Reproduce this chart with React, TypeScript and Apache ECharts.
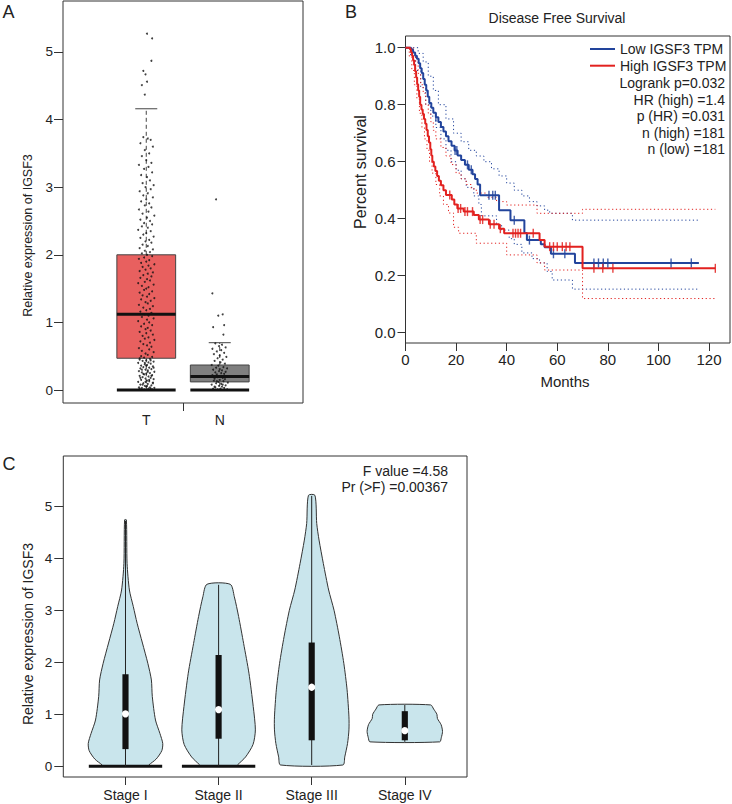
import React, { useEffect, useRef } from "react";
import * as echarts from "echarts";

const FONT = '"Liberation Sans", Arial, Helvetica, sans-serif';
const TEXT = "#222";
const AXIS = "#333";

// ---------------- Panel A: box plot with jittered points ----------------
const A_CATEGORIES = ["T", "N"];
const A_LOWER = [0, 0];
const A_Q1 = [0.47, 0.12];
const A_MEDIAN = [1.12, 0.2];
const A_Q3 = [2.0, 0.37];
const A_UPPER = [4.16, 0.7];
const A_Y_TICKS = [0, 1, 2, 3, 4, 5];
const A_TITLE = "Relative expression of IGSF3";
// [jitter in hundredths of a category, value]
const A_T_POINTS: [number, number][] = [
  [1, 5.27], [8, 5.2], [7, 4.87], [-4, 4.72], [-1, 4.67], [1, 4.56], [-6, 4.51], [-2, 4.37],
  [-4, 3.74], [2, 3.72], [6, 3.7], [-8, 3.65], [9, 3.6], [-2, 3.55], [4, 3.5], [-6, 3.46], [0, 3.4], [7, 3.36],
  [-10, 3.33], [3, 3.3], [-3, 3.27], [8, 3.22], [-7, 3.18], [1, 3.15], [5, 3.1], [-5, 3.06], [10, 3.03], [-1, 3.0],
  [6, 2.97], [-9, 2.94], [2, 2.91], [-4, 2.88], [9, 2.85], [0, 2.82], [-7, 2.79], [4, 2.76], [-2, 2.73], [7, 2.7],
  [-10, 2.67], [3, 2.64], [-5, 2.61], [11, 2.58], [1, 2.55], [-8, 2.52], [5, 2.5],
  [-3, 2.47], [8, 2.45], [-6, 2.42], [2, 2.4], [-11, 2.37], [6, 2.35], [0, 2.32], [-4, 2.3], [10, 2.27], [-8, 2.25],
  [4, 2.22], [-1, 2.2], [7, 2.18], [-5, 2.15], [2, 2.13], [-9, 2.1], [9, 2.08], [-2, 2.06], [5, 2.04], [-6, 2.02], [1, 2.0],
  [8, 1.98], [-3, 1.96], [-10, 1.94], [4, 1.92], [0, 1.9], [-7, 1.88], [11, 1.86], [3, 1.84], [-5, 1.82], [6, 1.8],
  [-1, 1.78], [-9, 1.76], [9, 1.74], [2, 1.72], [-4, 1.7], [7, 1.68], [-8, 1.66], [1, 1.64], [5, 1.62], [-2, 1.6],
  [-11, 1.58], [10, 1.56], [-6, 1.54], [3, 1.52], [0, 1.5],
  [-3, 1.48], [8, 1.46], [-9, 1.44], [4, 1.42], [-5, 1.4], [1, 1.38], [11, 1.36], [-7, 1.34], [6, 1.32], [-1, 1.3],
  [2, 1.28], [-10, 1.26], [9, 1.24], [-4, 1.22], [5, 1.2], [0, 1.18], [-8, 1.16], [7, 1.14], [-2, 1.12], [3, 1.1],
  [-6, 1.08], [10, 1.06], [1, 1.04], [-11, 1.02], [4, 1.0],
  [-3, 0.98], [8, 0.96], [-7, 0.94], [2, 0.92], [-1, 0.9], [6, 0.88], [-9, 0.86], [0, 0.84], [9, 0.82], [-5, 0.8],
  [3, 0.78], [-2, 0.76], [11, 0.74], [-8, 0.72], [5, 0.7], [-4, 0.68], [1, 0.66], [7, 0.64], [-10, 0.62], [4, 0.6],
  [-6, 0.58], [10, 0.56], [-1, 0.54], [2, 0.52], [-7, 0.5],
  [8, 0.49], [-3, 0.48], [5, 0.46], [-9, 0.45], [0, 0.44], [-5, 0.43], [10, 0.42], [3, 0.41], [-11, 0.4], [6, 0.39],
  [-2, 0.38], [1, 0.37], [-7, 0.36], [9, 0.35], [-4, 0.34], [4, 0.33], [-8, 0.32], [7, 0.31], [-1, 0.3], [2, 0.29],
  [-10, 0.28], [11, 0.27], [-6, 0.26], [5, 0.25], [0, 0.24], [-3, 0.23], [8, 0.22], [-9, 0.21], [3, 0.2], [-5, 0.19],
  [6, 0.18], [-1, 0.17], [10, 0.16], [-7, 0.15], [1, 0.14], [4, 0.13], [-11, 0.12], [9, 0.11], [-4, 0.1], [2, 0.09],
  [-8, 0.08], [7, 0.07], [-2, 0.06], [0, 0.05], [5, 0.04], [-6, 0.03], [11, 0.03], [-9, 0.02], [3, 0.02], [-3, 0.01],
  [8, 0.01], [-7, 0.01], [6, 0.02], [-10, 0.04], [1, 0.06], [-5, 0.08], [9, 0.1], [-1, 0.12], [4, 0.15], [-8, 0.18],
  [7, 0.21], [-4, 0.24], [2, 0.27], [-6, 0.3], [10, 0.33], [0, 0.36], [-2, 0.4], [6, 0.44], [-9, 0.47],
];
const A_N_POINTS: [number, number][] = [
  [-5, 2.82], [-10, 1.43], [4, 1.12], [-2, 1.1], [6, 0.96], [-9, 0.93], [5, 0.82],
  [-6, 0.69], [3, 0.67], [-1, 0.65], [8, 0.63], [-10, 0.61], [2, 0.59], [-4, 0.57], [6, 0.55], [-8, 0.53], [0, 0.51],
  [9, 0.49], [-3, 0.47], [4, 0.45], [-7, 0.43], [1, 0.41], [7, 0.39], [-11, 0.37], [-2, 0.36], [5, 0.34], [-5, 0.33],
  [10, 0.32], [0, 0.31], [-9, 0.3], [3, 0.29], [-1, 0.28], [8, 0.27], [-6, 0.26], [2, 0.25], [6, 0.24], [-4, 0.23],
  [-10, 0.22], [1, 0.21], [9, 0.2], [-3, 0.19], [4, 0.18], [-7, 0.17], [7, 0.16], [0, 0.15], [-8, 0.14], [5, 0.13],
  [-2, 0.12], [11, 0.11], [-5, 0.1], [2, 0.09], [-11, 0.08], [8, 0.07], [-1, 0.06], [3, 0.05], [-6, 0.04], [6, 0.03],
  [-9, 0.02], [1, 0.02], [-3, 0.01], [10, 0.01], [-7, 0.05], [4, 0.08], [-4, 0.13],
];

// ---------------- Panel B: Kaplan-Meier ----------------
const B_TITLE = "Disease Free Survival";
const B_SERIES_NAMES = ["Low IGSF3 TPM", "High IGSF3 TPM"];
const B_STATS = ["Logrank p=0.032", "HR (high) =1.4", "p (HR) =0.031", "n (high) =181", "n (low) =181"];
const B_X_TICKS = [0, 20, 40, 60, 80, 100, 120];
const B_Y_TICKS = [0, 0.2, 0.4, 0.6, 0.8, 1.0];
const B_LOW: [number, number][] = [
  [0, 1], [2.2, 0.994], [3, 0.983], [3.8, 0.972], [4.5, 0.961], [5.2, 0.945], [5.8, 0.928], [6.4, 0.911], [7, 0.89],
  [7.6, 0.87], [8.2, 0.85], [8.8, 0.828], [9.4, 0.806], [10.2, 0.789], [11, 0.772], [12, 0.756], [13, 0.739],
  [14, 0.722], [15, 0.706], [16, 0.689], [17, 0.672], [18.2, 0.656], [19.4, 0.639], [20.6, 0.622], [22, 0.606],
  [23.5, 0.589], [25, 0.572], [26.5, 0.556], [27.5, 0.539], [28.5, 0.52], [29.5, 0.482], [37, 0.43], [41.5, 0.395],
  [47, 0.35], [48, 0.325], [53.5, 0.31], [55, 0.3], [57.5, 0.277], [67, 0.245], [116, 0.245],
];
const B_HIGH: [number, number][] = [
  [0, 1], [1.8, 0.994], [2.2, 0.983], [2.6, 0.972], [3, 0.956], [3.4, 0.939], [3.8, 0.917], [4.2, 0.895], [4.6, 0.872],
  [5, 0.85], [5.4, 0.828], [5.8, 0.8], [6.3, 0.783], [6.8, 0.767], [7.3, 0.75], [7.8, 0.733], [8.3, 0.711],
  [8.8, 0.689], [9.3, 0.667], [9.8, 0.644], [10.2, 0.622], [10.6, 0.6], [11.2, 0.583], [11.8, 0.567], [12.5, 0.55],
  [13.2, 0.533], [14, 0.517], [15, 0.5], [16, 0.483], [18.3, 0.467], [19.3, 0.45], [20.5, 0.436], [23, 0.425],
  [27, 0.413], [29, 0.397], [33, 0.381], [37, 0.365], [39, 0.349], [53, 0.325], [55, 0.302], [70, 0.226], [122.5, 0.226],
];
const B_LOW_UPPER: [number, number][] = [
  [0, 1], [3, 1], [5, 0.98], [7, 0.95], [9, 0.9], [11, 0.85], [13, 0.8], [16, 0.75], [19, 0.7], [22, 0.67],
  [25, 0.64], [28, 0.62], [31, 0.6], [34, 0.575], [37, 0.55], [40, 0.525], [43, 0.5], [46, 0.48], [49, 0.46],
  [52, 0.445], [55, 0.43], [57, 0.419], [66, 0.395], [116, 0.395],
];
const B_LOW_LOWER: [number, number][] = [
  [0, 1], [2, 0.97], [4, 0.92], [6, 0.86], [8, 0.8], [10, 0.76], [12, 0.72], [14, 0.68], [16, 0.64], [18, 0.6],
  [20, 0.57], [22, 0.54], [24, 0.51], [27, 0.48], [29, 0.45], [30, 0.41], [36, 0.38], [38, 0.36], [41, 0.33],
  [43, 0.31], [46, 0.28], [50, 0.26], [53, 0.245], [56, 0.215], [58, 0.185], [66, 0.153], [116, 0.153],
];
const B_HIGH_UPPER: [number, number][] = [
  [0, 1], [2, 1], [3, 0.98], [4, 0.95], [5, 0.91], [6, 0.87], [7, 0.84], [8, 0.8], [9, 0.77], [10, 0.74], [11, 0.71],
  [12, 0.68], [14, 0.65], [16, 0.62], [18, 0.59], [20, 0.56], [22, 0.54], [24, 0.52], [26, 0.505], [28, 0.49],
  [32, 0.475], [36, 0.46], [40, 0.448], [52, 0.419], [70, 0.433], [122.5, 0.433],
];
const B_HIGH_LOWER: [number, number][] = [
  [0, 1], [1.5, 0.97], [2.5, 0.92], [3.5, 0.87], [4.5, 0.82], [5.5, 0.77], [6.5, 0.72], [7.5, 0.68], [8.5, 0.64],
  [9.5, 0.6], [10.5, 0.56], [12, 0.52], [13.5, 0.48], [15, 0.45], [17, 0.42], [19, 0.37], [21, 0.349], [28, 0.314],
  [40, 0.273], [52, 0.245], [55, 0.22], [70, 0.12], [122.5, 0.12],
];
const B_LOW_CENSOR: [number, number][] = [
  [12, 0.756], [19.6, 0.639], [20.3, 0.639], [24.5, 0.589], [26, 0.572], [33, 0.482], [34.5, 0.482], [35.5, 0.482],
  [43, 0.395], [49, 0.325], [58.5, 0.277], [63, 0.277], [74.5, 0.245], [76.3, 0.245], [78.2, 0.245], [80, 0.245],
  [105, 0.245], [113, 0.245],
];
const B_HIGH_CENSOR: [number, number][] = [
  [17.5, 0.483], [20.8, 0.436], [21.8, 0.436], [23.5, 0.425], [24.5, 0.425], [26.5, 0.425], [29.5, 0.397], [30.5, 0.397],
  [33.5, 0.381], [35, 0.381], [37.5, 0.365], [42.5, 0.349], [43.5, 0.349], [44.5, 0.349], [45.5, 0.349], [50.5, 0.349],
  [57, 0.302], [58.5, 0.302], [60, 0.302], [62, 0.302], [63.5, 0.302], [65, 0.302], [74.5, 0.226], [78, 0.226],
  [82, 0.226], [122.5, 0.226],
];

// ---------------- Panel C: violin plot ----------------
const C_CATEGORIES = ["Stage I", "Stage II", "Stage III", "Stage IV"];
const C_Y_TICKS = [0, 1, 2, 3, 4, 5];
const C_TITLE = "Relative expression of IGSF3";
const C_STATS = ["F value =4.58", "Pr (>F) =0.00367"];
// [value, half-width of the density in category units], bottom to top
const C_PROFILES: [number, number][][] = [
  [[0, 0.24], [0.025, 0.25], [0.14, 0.33], [0.3, 0.39], [0.44, 0.4], [0.63, 0.37], [0.89, 0.322], [1.34, 0.288],
   [1.66, 0.278], [1.98, 0.24], [2.37, 0.182], [2.75, 0.125], [3.07, 0.084], [3.39, 0.042], [3.9, 0.017], [4.74, 0.0096]],
  [[0, 0.19], [0.03, 0.205], [0.18, 0.29], [0.42, 0.37], [0.7, 0.395], [1.15, 0.372], [1.79, 0.326], [2.36, 0.269],
   [2.88, 0.215], [3.26, 0.169], [3.5, 0.125]],
  [[0.025, 0.335], [0.18, 0.355], [0.44, 0.385], [0.7, 0.4], [0.95, 0.4], [1.47, 0.38], [1.98, 0.345], [2.49, 0.297],
   [3.0, 0.24], [3.39, 0.182], [3.9, 0.125], [4.35, 0.079], [4.67, 0.054], [5.21, 0.035]],
  [[0.47, 0.375], [0.55, 0.392], [0.67, 0.405], [0.8, 0.39], [0.92, 0.35], [1.0, 0.345], [1.1, 0.31], [1.18, 0.278]],
];
const C_WHISKER_LO = [0, 0, 0.025, 0.47];
const C_WHISKER_HI = [4.72, 3.49, 5.2, 1.18];
const C_Q1 = [0.33, 0.53, 0.5, 0.5];
const C_Q3 = [1.77, 2.14, 2.38, 1.06];
const C_MEDIAN = [1.01, 1.09, 1.52, 0.685];
const C_ZERO_PILE = [true, true, false, false];

// ---------------- styles ----------------
const BOX_COLORS = ["#e8605f", "#7f7f7f"];
const LOW_COLOR = "#22449c";
const HIGH_COLOR = "#e2211f";
const VIOLIN_FILL = "#c9e5ec";
const JITTER_UNIT = 0.01;

function txt(text: string, x: number, y: number, size: number, extra: any = {}) {
  return {
    type: "text",
    x,
    y,
    rotation: extra.rotation || 0,
    silent: true,
    style: {
      text,
      fontSize: size,
      fontFamily: FONT,
      fill: TEXT,
      align: extra.align || "center",
      verticalAlign: "middle",
    },
  };
}

function yAxisCfg(gridIndex: number, min: number, max: number, ticks: number[], fmt: (v: number) => string, size: number, tickLen: number, margin: number) {
  return {
    type: "value",
    gridIndex,
    min,
    max,
    axisLine: { show: false, onZero: false },
    splitLine: { show: false },
    axisTick: { show: true, inside: false, length: tickLen, customValues: ticks, lineStyle: { color: AXIS, width: 1 } },
    axisLabel: { customValues: ticks, formatter: fmt, fontSize: size, color: TEXT, fontFamily: FONT, margin },
  };
}

function xAxisCfg(gridIndex: number, min: number, max: number, tickVals: number[], labelVals: number[], fmt: (v: number) => string, size: number, tickLen: number, margin: number) {
  return {
    type: "value",
    gridIndex,
    min,
    max,
    axisLine: { show: false, onZero: false },
    splitLine: { show: false },
    axisTick: { show: true, inside: false, length: tickLen, customValues: tickVals, lineStyle: { color: AXIS, width: 1 } },
    axisLabel: { customValues: labelVals, formatter: fmt, fontSize: size, color: TEXT, fontFamily: FONT, margin },
  };
}

function buildOption(): any {
  const gridBase = { show: true, borderColor: AXIS, borderWidth: 1, backgroundColor: "transparent", containLabel: false, outerBoundsMode: "none" };
  const aBoxData = A_CATEGORIES.map((_, i) => [i + 1, A_LOWER[i], A_Q1[i], A_MEDIAN[i], A_Q3[i], A_UPPER[i]]);
  const cData = C_CATEGORIES.map((_, i) => [i + 1, C_WHISKER_LO[i], C_Q1[i], C_MEDIAN[i], C_Q3[i], C_WHISKER_HI[i]]);

  const step = (name: string, data: [number, number][], color: string, width: number, dotted: boolean, z: number) => ({
    type: "line",
    name,
    xAxisIndex: 1,
    yAxisIndex: 1,
    data,
    step: "end",
    symbol: "none",
    showSymbol: false,
    silent: true,
    z,
    lineStyle: { color, width, type: dotted ? [1.2, 2.6] : "solid" },
    itemStyle: { color },
  });

  const censor = (data: [number, number][], color: string) => ({
    type: "scatter",
    xAxisIndex: 1,
    yAxisIndex: 1,
    data,
    symbol: "rect",
    symbolSize: [1.4, 9],
    silent: true,
    z: 4,
    itemStyle: { color, opacity: 0.85 },
  });

  return {
    animation: false,
    backgroundColor: "#fff",
    textStyle: { fontFamily: FONT },
    grid: [
      { ...gridBase, left: 63, top: 1, width: 240, height: 402 },
      { ...gridBase, left: 405.5, top: 36, width: 324.5, height: 307 },
      { ...gridBase, left: 63.3, top: 456, width: 403.7, height: 321 },
    ],
    xAxis: [
      xAxisCfg(0, -0.133, 3.133, [1.5], [1, 2], (v) => A_CATEGORIES[Math.round(v) - 1] || "", 14, 8, 10),
      xAxisCfg(1, 0, 128.3, B_X_TICKS, B_X_TICKS, (v) => String(Math.round(v)), 15, 8, 9),
      xAxisCfg(2, 0.332, 4.668, [1, 2, 3, 4], [1, 2, 3, 4], (v) => C_CATEGORIES[Math.round(v) - 1] || "", 14, 8, 11),
    ],
    yAxis: [
      yAxisCfg(0, -0.192, 5.754, A_Y_TICKS, (v) => String(Math.round(v)), 13.5, 9, 10),
      yAxisCfg(1, -0.036, 1.041, B_Y_TICKS, (v) => v.toFixed(1), 15, 8, 10),
      yAxisCfg(2, -0.206, 5.967, C_Y_TICKS, (v) => String(Math.round(v)), 13.5, 9, 11),
    ],
    legend: {
      data: B_SERIES_NAMES.map((name) => ({ name, icon: "rect" })),
      orient: "vertical",
      left: 590,
      top: 41.5,
      padding: 0,
      itemWidth: 25,
      itemHeight: 2,
      itemGap: 1.7,
      selectedMode: false,
      textStyle: { fontSize: 14, color: TEXT, fontFamily: FONT, lineHeight: 15 },
    },
    graphic: [
      txt("A", 8.5, 11.5, 18),
      txt("B", 351, 12, 18),
      txt("C", 9, 463.5, 18),
      txt(A_TITLE, 28, 235.5, 12.5, { rotation: Math.PI / 2 }),
      txt(B_TITLE, 557, 18, 14),
      txt("Percent survival", 360, 172, 16, { rotation: Math.PI / 2 }),
      txt("Months", 565, 381, 15),
      ...B_STATS.map((s, i) => txt(s, 725, 83.3 + i * 16.5, 14, { align: "right" })),
      txt(C_TITLE, 28, 634, 14, { rotation: Math.PI / 2 }),
      ...C_STATS.map((s, i) => txt(s, 448, 470.7 + i * 16.6, 14, { align: "right" })),
    ],
    series: [
      // Panel A boxes
      {
        type: "custom",
        xAxisIndex: 0,
        yAxisIndex: 0,
        data: aBoxData,
        encode: { x: 0, y: [1, 2, 3, 4, 5] },
        silent: true,
        z: 2,
        renderItem: (params: any, api: any) => {
          const c = api.value(0);
          const lo = api.value(1), q1 = api.value(2), med = api.value(3), q3 = api.value(4), hi = api.value(5);
          const bw = 0.4, cw = 0.15;
          const p = (x: number, y: number) => api.coord([x, y]);
          const [xl, yq3] = p(c - bw, q3);
          const [xr, yq1] = p(c + bw, q1);
          const [xc, yhi] = p(c, hi);
          const [, ylo] = p(c, lo);
          const [, ymed] = p(c, med);
          const [cl] = p(c - cw, hi);
          const [cr] = p(c + cw, hi);
          const dash = { stroke: "#444", lineWidth: 1, lineDash: [4, 3] };
          return {
            type: "group",
            children: [
              { type: "line", shape: { x1: xc, y1: yq3, x2: xc, y2: yhi }, style: dash },
              { type: "line", shape: { x1: xc, y1: yq1, x2: xc, y2: ylo }, style: dash },
              { type: "line", shape: { x1: cl, y1: yhi, x2: cr, y2: yhi }, style: { stroke: "#444", lineWidth: 1 } },
              { type: "rect", shape: { x: xl, y: yq3, width: xr - xl, height: yq1 - yq3 }, style: { fill: BOX_COLORS[params.dataIndex], stroke: "#444", lineWidth: 1 } },
              { type: "line", shape: { x1: xl, y1: ymed, x2: xr, y2: ymed }, style: { stroke: "#111", lineWidth: 3 } },
              { type: "line", shape: { x1: xl, y1: ylo, x2: xr, y2: ylo }, style: { stroke: "#111", lineWidth: 3 } },
            ],
          };
        },
      },
      {
        type: "scatter",
        xAxisIndex: 0,
        yAxisIndex: 0,
        symbol: "circle",
        symbolSize: 2,
        silent: true,
        z: 3,
        itemStyle: { color: "#111" },
        data: [
          ...A_T_POINTS.map(([dx, v]) => [1 + dx * JITTER_UNIT, v]),
          ...A_N_POINTS.map(([dx, v]) => [2 + dx * JITTER_UNIT, v]),
        ],
      },
      // Panel B
      step(B_SERIES_NAMES[0] + " upper", B_LOW_UPPER, LOW_COLOR, 1, true, 2),
      step(B_SERIES_NAMES[0] + " lower", B_LOW_LOWER, LOW_COLOR, 1, true, 2),
      step(B_SERIES_NAMES[1] + " upper", B_HIGH_UPPER, HIGH_COLOR, 1, true, 2),
      step(B_SERIES_NAMES[1] + " lower", B_HIGH_LOWER, HIGH_COLOR, 1, true, 2),
      step(B_SERIES_NAMES[0], B_LOW, LOW_COLOR, 2, false, 3),
      step(B_SERIES_NAMES[1], B_HIGH, HIGH_COLOR, 2, false, 3),
      censor(B_LOW_CENSOR, LOW_COLOR),
      censor(B_HIGH_CENSOR, HIGH_COLOR),
      // Panel C violins
      {
        type: "custom",
        xAxisIndex: 2,
        yAxisIndex: 2,
        data: cData,
        encode: { x: 0, y: [1, 2, 3, 4, 5] },
        silent: true,
        z: 2,
        renderItem: (params: any, api: any) => {
          const i = params.dataIndex;
          const c = api.value(0);
          const lo = api.value(1), q1 = api.value(2), med = api.value(3), q3 = api.value(4), hi = api.value(5);
          const prof = C_PROFILES[i];
          const left = prof.map(([v, w]) => api.coord([c - w, v]));
          const right = prof.slice().reverse().map(([v, w]) => api.coord([c + w, v]));
          const p = (x: number, y: number) => api.coord([x, y]);
          const bw = 0.033;
          const [bl, yq3] = p(c - bw, q3);
          const [br, yq1] = p(c + bw, q1);
          const [xc, yhi] = p(c, hi);
          const [, ylo] = p(c, lo);
          const [, ymed] = p(c, med);
          const children: any[] = [
            { type: "polygon", shape: { points: left.concat(right), smooth: 0.25 }, style: { fill: VIOLIN_FILL, stroke: "#333", lineWidth: 1 } },
          ];
          if (C_ZERO_PILE[i]) {
            const [zl, zy] = p(c - 0.394, 0);
            const [zr] = p(c + 0.394, 0);
            children.push({ type: "line", shape: { x1: zl, y1: zy, x2: zr, y2: zy }, style: { stroke: "#111", lineWidth: 3 } });
          }
          children.push(
            { type: "line", shape: { x1: xc, y1: ylo, x2: xc, y2: yhi }, style: { stroke: "#222", lineWidth: 1 } },
            { type: "rect", shape: { x: bl, y: yq3, width: br - bl, height: yq1 - yq3 }, style: { fill: "#111" } },
            { type: "circle", shape: { cx: xc, cy: ymed, r: 3.6 }, style: { fill: "#fff" } }
          );
          return { type: "group", children };
        },
      },
    ],
  };
}

export default function App() {
  const ref = useRef<HTMLDivElement>(null);
  useEffect(() => {
    if (!ref.current) return;
    const chart = echarts.init(ref.current, null, { renderer: "svg" });
    chart.setOption(buildOption());
    return () => chart.dispose();
  }, []);
  return (
    <div
      ref={ref}
      style={{ position: "absolute", left: 0, top: 0, width: 732, height: 804, background: "#fff" }}
    />
  );
}
